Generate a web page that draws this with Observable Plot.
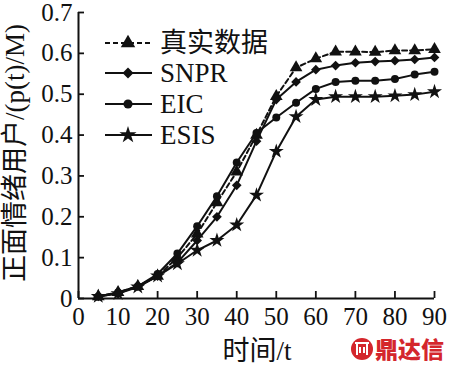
<!DOCTYPE html>
<html><head><meta charset="utf-8">
<script src="https://cdn.jsdelivr.net/npm/d3@7"></script>
<script src="https://cdn.jsdelivr.net/npm/@observablehq/plot@0.6"></script>
<style>
body{margin:0;background:#fff;}
#c{position:relative;width:454px;height:367px;}
</style></head><body><div id="c"></div>
<script>
const times = [5,10,15,20,25,30,35,40,45,50,55,60,65,70,75,80,85,90];
const truthVals = [0.005,0.015,0.03,0.055,0.1,0.158,0.235,0.31,0.4,0.495,0.565,0.587,0.604,0.604,0.603,0.607,0.607,0.61];
const snprVals  = [0.005,0.013,0.03,0.055,0.088,0.142,0.2,0.277,0.385,0.487,0.53,0.56,0.57,0.577,0.58,0.582,0.585,0.59];
const eicVals   = [0.005,0.015,0.03,0.06,0.11,0.177,0.25,0.333,0.405,0.443,0.479,0.513,0.53,0.533,0.533,0.537,0.548,0.555];
const esisVals  = [0.005,0.012,0.028,0.055,0.085,0.118,0.142,0.18,0.253,0.36,0.445,0.487,0.494,0.494,0.494,0.496,0.499,0.506];
const seriesNames = ["真实数据","SNPR","EIC","ESIS"];
const seriesSymbols = ["triangle","diamond2","circle","star"];
const xTicks = [0,10,20,30,40,50,60,70,80,90];
const yTicks = [0,0.1,0.2,0.3,0.4,0.5,0.6,0.7];
const yTickLabels = ["0","0.1","0.2","0.3","0.4","0.5","0.6","0.7"];
const xTitle = "时间/t";
const yTitle = "正面情绪用户/(p(t)/M)";
const watermark = "鼎达信";

const allVals = [truthVals, snprVals, eicVals, esisVals];
const rows = [];
allVals.forEach((vals, si) => vals.forEach((v, i) => rows.push({t: times[i], v, s: seriesNames[si]})));

const serif = "'Liberation Serif','Times New Roman',serif";
const cjk = "'Liberation Serif','Noto Sans CJK SC',serif";
const symSize = {"triangle": 70, "diamond2": 60, "circle": 50, "star": 70};

const marks = [];
seriesNames.forEach((name, si) => {
  const d = rows.filter(r => r.s === name);
  marks.push(Plot.line(d, {x: "t", y: "v", stroke: "#111", strokeWidth: 2, strokeDasharray: si === 0 ? "5,3" : null}));
});
seriesNames.forEach((name, si) => {
  const d = rows.filter(r => r.s === name);
  marks.push(Plot.dot(d, {x: "t", y: "v", symbol: () => seriesSymbols[si], fill: "#111", stroke: "none", r: Math.sqrt(symSize[seriesSymbols[si]]/Math.PI)}));
});

const chart = Plot.plot({
  width: 454, height: 367,
  marginLeft: 78, marginRight: 20, marginTop: 12, marginBottom: 69,
  style: {fontFamily: serif, fontSize: "25px", color: "#111", background: "#fff"},
  x: {domain: [0, 90]},
  y: {domain: [0, 0.7]},
  symbol: {type: "identity"},
  marks: [
    Plot.axisX({ticks: xTicks, tickSize: 0, tickPadding: 9, label: null, fontSize: 25, fontFamily: serif}),
    Plot.axisX({ticks: xTicks, tickSize: 7, text: null, label: null, dy: -7, stroke: "#111", strokeWidth: 1.8}),
    Plot.axisY({ticks: yTicks, tickFormat: d => yTickLabels[yTicks.indexOf(d)], tickSize: 0, tickPadding: 6, label: null, fontSize: 25, fontFamily: serif}),
    Plot.axisY({ticks: yTicks, tickSize: 6, text: null, label: null, dx: 6, stroke: "#111", strokeWidth: 1.8}),
    Plot.ruleY([0], {stroke: "#111", strokeWidth: 2}),
    Plot.ruleX([0], {stroke: "#111", strokeWidth: 2}),
    ...marks
  ]
});
document.getElementById("c").appendChild(chart);

const svg = d3.select(chart);
svg.append("text").attr("x", 257).attr("y", 360).attr("text-anchor", "middle")
  .style("font-family", cjk).style("font-size", "27px").attr("fill", "#111").text(xTitle);
svg.append("text").attr("transform", "translate(24,153) rotate(-90)").attr("text-anchor", "middle")
  .style("font-family", cjk).style("font-size", "27px").attr("fill", "#111").text(yTitle);

// legend
const legendY = [43, 73, 104, 135];
const symGen = {"triangle": d3.symbolTriangle, "diamond2": d3.symbolDiamond2, "circle": d3.symbolCircle, "star": d3.symbolStar};
const lg = svg.append("g");
seriesNames.forEach((name, i) => {
  const y = legendY[i];
  lg.append("line").attr("x1", 105).attr("x2", 152).attr("y1", y).attr("y2", y)
    .attr("stroke", "#111").attr("stroke-width", 2).attr("stroke-dasharray", i === 0 ? "5,3" : null);
  lg.append("path").attr("transform", `translate(128,${y})`).attr("d", d3.symbol(symGen[seriesSymbols[i]], symSize[seriesSymbols[i]]*1.3)()).attr("fill", "#111");
  lg.append("text").attr("x", 160).attr("y", y + 9).attr("text-anchor", "start")
    .style("font-family", cjk).style("font-size", "27px").attr("fill", "#111").text(name);
});

// watermark
const wm = svg.append("g");
wm.append("circle").attr("cx", 362).attr("cy", 349).attr("r", 11).attr("fill", "#d4262c");
wm.append("path").attr("d", "M355,343 H369 M357,343 V355 M367,343 V355 M360,347 V353 M364,347 V353").attr("stroke", "#fff").attr("stroke-width", 2).attr("fill", "none");
wm.append("text").attr("x", 375).attr("y", 358).attr("text-anchor", "start").style("font-family", "'Noto Sans CJK SC'").style("font-size", "23px").style("font-weight", "900").attr("fill", "#d4262c").text(watermark);
</script></body></html>
